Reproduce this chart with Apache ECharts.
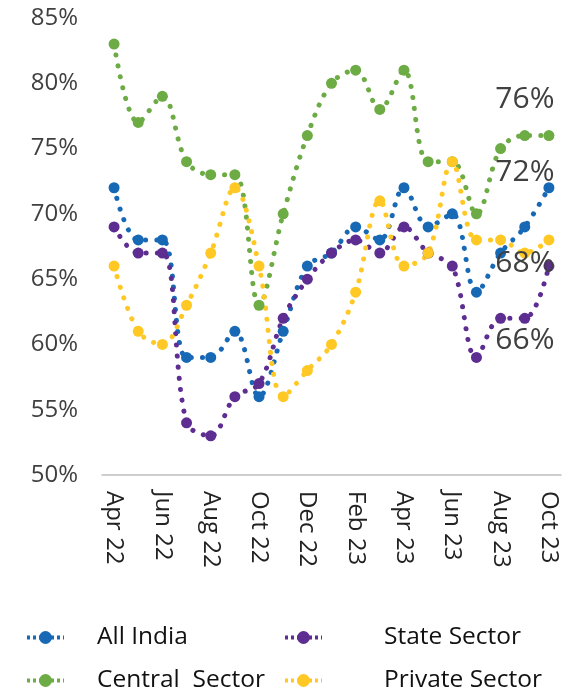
<!DOCTYPE html>
<html>
<head>
<meta charset="utf-8">
<script src="https://cdn.jsdelivr.net/npm/echarts@6/dist/echarts.min.js"></script>
<style>
html,body{margin:0;padding:0;background:#fff;}
#chart{width:582px;height:691px;}
</style>
</head>
<body>
<div id="chart"></div>
<script>
const months = ['Apr 22','May 22','Jun 22','Jul 22','Aug 22','Sep 22','Oct 22','Nov 22','Dec 22','Jan 23','Feb 23','Mar 23','Apr 23','May 23','Jun 23','Jul 23','Aug 23','Sep 23','Oct 23'];
const allIndia = [72,68,68,59,59,61,56,61,66,67,69,68,72,69,70,64,67,69,72];
const central  = [83,77,79,74,73,73,63,70,76,80,81,78,81,74,74,70,75,76,76];
const state    = [69,67,67,54,53,56,57,62,65,67,68,67,69,67,66,59,62,62,66];
const priv     = [66,61,60,63,67,72,66,56,58,60,64,71,66,67,74,68,68,67,68];
const yTicks = [50,55,60,65,70,75,80,85];

const FONT = '"Open Sans", "Noto Sans", sans-serif';
const colors = {all:'#1769B5', central:'#6DAB45', state:'#5E2D91', priv:'#FFC824'};

function mkSeries(name, data, color, lblOffset){
  const d = data.map((v,i)=>{
    if(i===data.length-1){
      return {value:v, label:{show:true, position:'inside', offset:lblOffset, formatter:v+'%', color:'#404040', fontSize:30, fontFamily:FONT}};
    }
    return v;
  });
  return {
    name:name, type:'line', data:d, smooth:0.35,
    symbol:'circle', symbolSize:11,
    itemStyle:{color:color},
    lineStyle:{color:color, width:5, type:[0.1,11], cap:'round'},
    label:{show:false},
    emphasis:{disabled:true}
  };
}

const legendCommon = {
  orient:'vertical', top:625, height:120, padding:0, itemWidth:37, itemHeight:16, itemGap:18,
  lineStyle:{width:4, type:[3,3], cap:'butt'}
};

const chart = echarts.init(document.getElementById('chart'));
chart.setOption({
  animation:false,
  grid:{left:102, right:21, top:18, bottom:216},
  xAxis:{
    type:'category', data:months, boundaryGap:true,
    axisLine:{lineStyle:{color:'#BFBFBF', width:1.5}},
    axisTick:{show:false},
    axisLabel:{rotate:-90, interval:1, margin:16, fontSize:24, color:'#222', fontFamily:FONT}
  },
  yAxis:{
    type:'value', min:yTicks[0], max:yTicks[yTicks.length-1], interval:5,
    axisLine:{show:false}, axisTick:{show:false},
    splitLine:{show:false},
    axisLabel:{formatter:'{value}%', fontSize:24, color:'#404040', margin:24, fontFamily:FONT}
  },
  legend:[
    Object.assign({}, legendCommon, {data:['All India','Central  Sector'], left:25,
     textStyle:{fontSize:24.5, lineHeight:22, color:'#111', fontFamily:FONT, padding:[0,0,0,28]}}),
    Object.assign({}, legendCommon, {data:['State Sector','Private Sector'], left:283,
     textStyle:{fontSize:24.5, lineHeight:22, color:'#111', fontFamily:FONT, padding:[0,0,0,57]}})
  ],
  series:[
    mkSeries('All India', allIndia, colors.all, [-24,-15]),
    mkSeries('Central  Sector', central, colors.central, [-24,-36]),
    mkSeries('State Sector', state, colors.state, [-24,74]),
    mkSeries('Private Sector', priv, colors.priv, [-24,23])
  ]
});
</script>
</body>
</html>
